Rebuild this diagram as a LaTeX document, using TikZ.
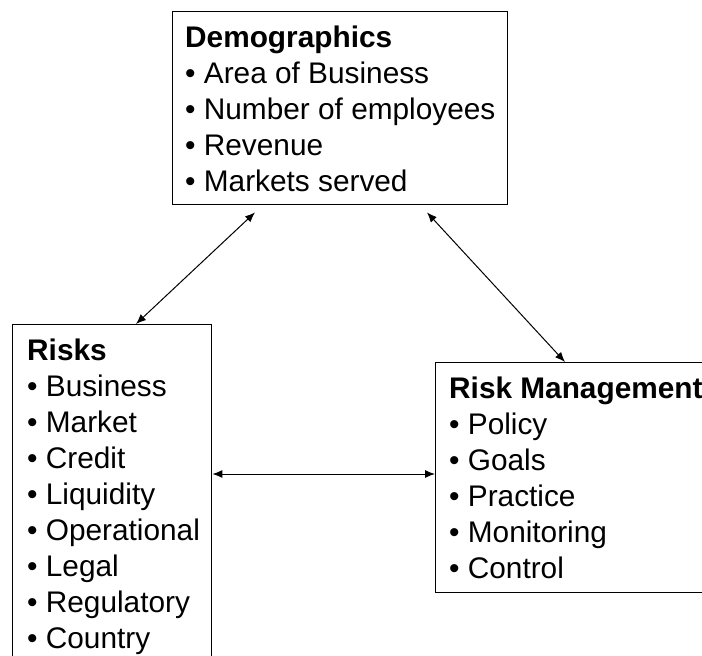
\documentclass[tikz,border=0pt]{standalone}
\usepackage{fontspec}
\setmainfont{Liberation Sans}
\usetikzlibrary{arrows.meta}

\tikzset{
  box/.style={draw=black, line width=1.4pt, fill=white, anchor=north west, inner sep=0pt},
  listtext/.style={anchor=north west, inner sep=0pt, align=left,
    font=\fontsize{29.8}{36}\selectfont},
  link/.style={line width=1pt, {Latex[length=10pt,width=8pt]}-{Latex[length=10pt,width=8pt]}}
}

\begin{document}
\begin{tikzpicture}[x=1pt, y=-1pt]
  \useasboundingbox (0,0) rectangle (702,656);
  \clip (0,0) rectangle (702,656);

  % the three boxes
  \node[box, minimum width=335pt, minimum height=193pt] (demo) at (172,11) {};
  \node[box, minimum width=199pt, minimum height=380pt] (risks) at (12,324) {};
  \node[box, minimum width=300pt, minimum height=230pt] (rm) at (435,362) {};

  % box contents (first baseline 36pt below the top edge)
  \node[listtext] (demotext) at (185,21.8)
    {\strut\textbf{Demographics}\\
     • Area of Business\\
     • Number of employees\\
     • Revenue\\
     • Markets served};
  \node[listtext] (riskstext) at (27,334.8)
    {\strut\textbf{Risks}\\
     • Business\\
     • Market\\
     • Credit\\
     • Liquidity\\
     • Operational\\
     • Legal\\
     • Regulatory\\
     • Country};
  \node[listtext] (rmtext) at (449,372.8)
    {\strut\textbf{Risk Management}\\
     • Policy\\
     • Goals\\
     • Practice\\
     • Monitoring\\
     • Control};

  % connectors
  \draw[link] ([xshift=83pt, yshift=-7pt]demo.south west) -- ([xshift=124pt]risks.north west);
  \draw[link] ([xshift=255pt, yshift=-7pt]demo.south west) -- ([xshift=130pt]rm.north west);
  \draw[link] ([yshift=-150pt]risks.north east) -- ([yshift=-112pt]rm.north west);
\end{tikzpicture}
\end{document}
